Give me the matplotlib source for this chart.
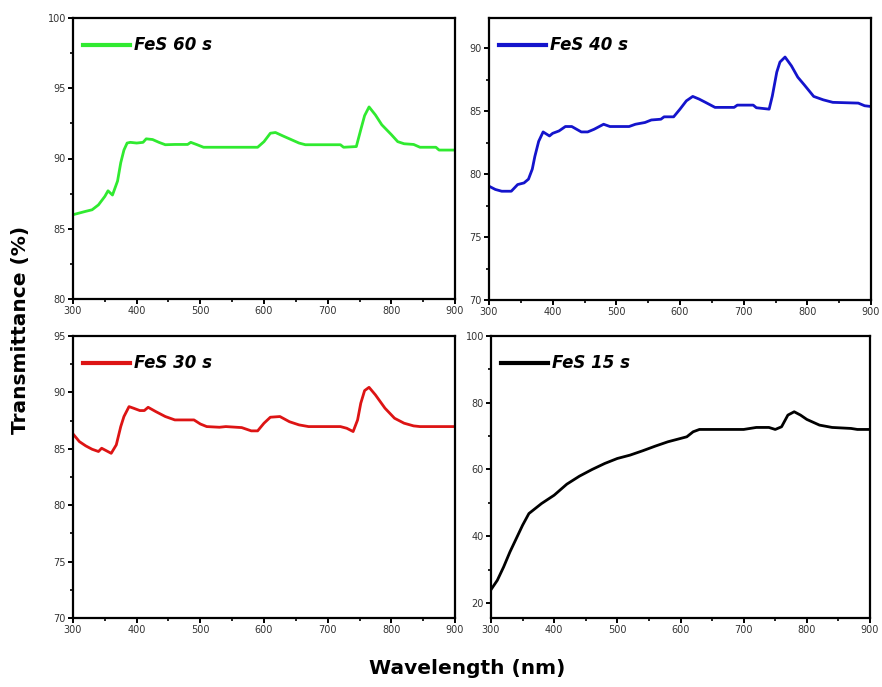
import matplotlib
matplotlib.use("Agg")
import matplotlib.pyplot as plt
from matplotlib.ticker import MultipleLocator

# Transmittance spectra of FeS films for different deposition times
wl_60 = [300, 320, 330, 340, 350, 355, 362, 370, 375, 380, 385, 390, 400, 410, 415, 425,
         435, 445, 460, 480, 485, 495, 505, 550, 590, 600, 610, 618, 630, 640, 655, 665,
         700, 720, 725, 745, 752, 758, 765, 775, 785, 800, 810, 820, 835, 845, 870, 875, 900]
t_60 = [86.0, 86.24, 86.35, 86.7, 87.3, 87.7, 87.4, 88.4, 89.7, 90.6, 91.1, 91.15, 91.1, 91.15,
        91.4, 91.35, 91.15, 90.98, 91.0, 91.0, 91.15, 90.98, 90.8, 90.8, 90.8, 91.2, 91.8, 91.85,
        91.6, 91.4, 91.1, 90.98, 90.98, 90.98, 90.8, 90.85, 92.05, 93.05, 93.67, 93.1, 92.4, 91.7,
        91.2, 91.05, 91.0, 90.8, 90.8, 90.6, 90.6]

wl_40 = [300, 310, 320, 335, 345, 355, 362, 368, 372, 378, 385, 395, 400, 410, 420, 430, 445,
         455, 465, 480, 490, 520, 530, 545, 555, 570, 575, 590, 600, 610, 620, 630, 640, 655,
         685, 690, 715, 720, 740, 745, 752, 757, 765, 775, 785, 795, 810, 825, 840, 880, 890, 900]
t_40 = [79.04, 78.78, 78.64, 78.64, 79.17, 79.3, 79.6, 80.4, 81.4, 82.6, 83.35, 83.03, 83.24,
        83.43, 83.78, 83.78, 83.35, 83.35, 83.56, 83.96, 83.78, 83.78, 83.96, 84.1, 84.3, 84.36,
        84.55, 84.55, 85.16, 85.82, 86.17, 85.96, 85.7, 85.3, 85.3, 85.48, 85.48, 85.27, 85.16,
        86.2, 88.1, 88.9, 89.3, 88.6, 87.7, 87.1, 86.17, 85.9, 85.7, 85.64, 85.43, 85.37]

wl_30 = [300, 310, 320, 330, 340, 345, 350, 360, 368, 375, 380, 388, 395, 405, 412, 418, 430,
         445, 460, 490, 500, 510, 530, 540, 565, 580, 590, 600, 610, 625, 640, 655, 670, 720,
         730, 740, 747, 752, 758, 765, 775, 790, 805, 820, 835, 845, 900]
t_30 = [86.32, 85.64, 85.26, 84.96, 84.76, 85.05, 84.9, 84.6, 85.35, 86.97, 87.86, 88.74, 88.6,
        88.39, 88.39, 88.68, 88.3, 87.86, 87.56, 87.56, 87.2, 86.97, 86.91, 86.97, 86.88, 86.59,
        86.59, 87.27, 87.8, 87.86, 87.4, 87.12, 86.97, 86.97, 86.82, 86.53, 87.56, 89.04, 90.16,
        90.45, 89.78, 88.6, 87.71, 87.27, 87.03, 86.97, 86.97]

wl_15 = [300, 310, 320, 330, 340, 350, 360, 370, 380, 400, 420, 440, 460, 480, 500, 520, 540,
         560, 580, 600, 610, 620, 630, 700, 720, 740, 750, 760, 770, 780, 790, 800, 820, 840,
         870, 880, 900]
t_15 = [24.0, 26.8, 30.8, 35.3, 39.3, 43.3, 46.8, 48.3, 49.8, 52.3, 55.6, 58.0, 60.0, 61.8,
        63.3, 64.3, 65.6, 67.0, 68.3, 69.3, 69.8, 71.3, 72.0, 72.0, 72.6, 72.6, 72.0, 72.8, 76.3,
        77.3, 76.3, 75.0, 73.3, 72.6, 72.3, 72.0, 72.0]

labels = ["FeS 60 s", "FeS 40 s", "FeS 30 s", "FeS 15 s"]
colors = ["#30ea30", "#1414cc", "#dd1414", "#000000"]
ylims = [(80, 100), (70, 92.4), (70, 95), (15.5, 100)]
ymajor = [5, 5, 5, 20]

W, H = 882, 687
fig = plt.figure(figsize=(W / 100, H / 100), dpi=100)

# axes boxes in pixels: (left, top, right, bottom)
boxes = [(73, 18, 455, 299), (489, 18, 871, 300), (73, 336, 455, 618), (491, 336, 870, 618)]
series = [(wl_60, t_60), (wl_40, t_40), (wl_30, t_30), (wl_15, t_15)]

for (l, t, r, b), (x, y), lab, c, yl, ym in zip(boxes, series, labels, colors, ylims, ymajor):
    ax = fig.add_axes([l / W, 1 - b / H, (r - l) / W, (b - t) / H])
    ax.plot(x, y, color=c, lw=2.0, label=lab)
    ax.set_xlim(300, 900)
    ax.set_ylim(*yl)
    ax.xaxis.set_major_locator(MultipleLocator(100))
    ax.xaxis.set_minor_locator(MultipleLocator(50))
    ax.yaxis.set_major_locator(MultipleLocator(ym))
    ax.yaxis.set_minor_locator(MultipleLocator(ym / 2))
    for s in ax.spines.values():
        s.set_linewidth(1.6)
    ax.tick_params(which="major", direction="out", length=3.5, width=1.4,
                   labelsize=7, labelcolor="#333333", pad=1.5)
    ax.tick_params(which="minor", direction="out", length=2, width=1.2)
    leg = ax.legend(loc="upper left", bbox_to_anchor=(0.0, 0.97), frameon=False,
                    handlelength=2.8, handletextpad=0.25, borderaxespad=0.2,
                    prop=dict(size=12, weight="bold", style="italic"))
    for line in leg.get_lines():
        line.set_linewidth(3.0)

fig.text(0.023, 0.52, "Transmittance (%)", rotation=90, ha="center", va="center",
         fontsize=14.5, fontweight="bold")
fig.text(0.53, 0.027, "Wavelength (nm)", ha="center", va="center",
         fontsize=14.5, fontweight="bold")

fig.savefig("out.png", dpi=100)
